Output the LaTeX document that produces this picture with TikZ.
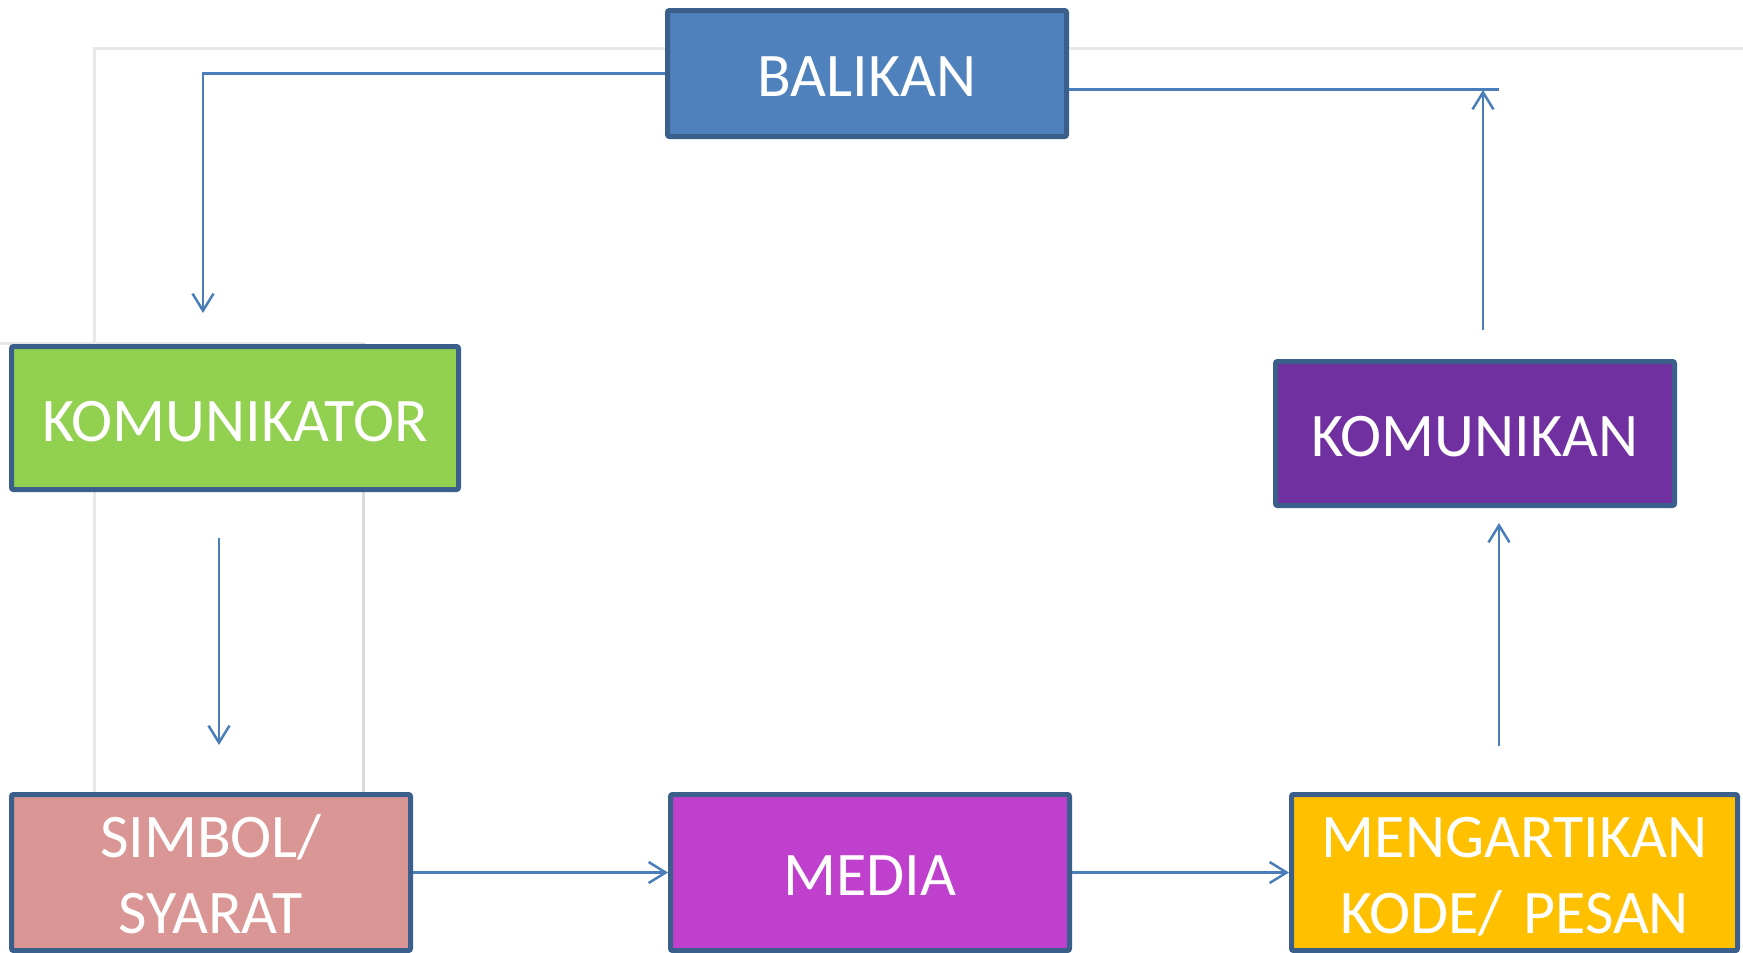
\documentclass[tikz,border=0pt]{standalone}
\usepackage{fontspec}
\setmainfont{Carlito}
\usetikzlibrary{arrows.meta,calc}
\definecolor{boxline}{HTML}{3A5F8B}
\definecolor{conncol}{HTML}{4A7EBB}
\definecolor{cBalikan}{HTML}{4F81BD}
\definecolor{cKomunikator}{HTML}{92D050}
\definecolor{cKomunikan}{HTML}{7030A0}
\definecolor{cSimbol}{HTML}{D99694}
\definecolor{cMedia}{HTML}{BF40CC}
\definecolor{cMengerti}{HTML}{FFC000}
\definecolor{ghost}{HTML}{E8E8E8}
\definecolor{ghostdark}{HTML}{DADADA}
\tikzset{
  boxnode/.style={draw=boxline, line width=5pt, rounded corners=2pt, inner sep=0pt,
    text=white, font=\fontsize{62}{76}\selectfont},
  oneline/.style={boxnode, text height=46pt, text depth=0pt},
  twoline/.style={boxnode, text width=#1, align=center, text height=0pt, text depth=31pt},
  conn/.style={draw=conncol, line width=2.5pt, -{Straight Barb[length=17pt,width=21pt]}},
  plainconn/.style={draw=conncol, line width=2.5pt},
  ghostline/.style={draw=ghost, line width=3pt},
}
\begin{document}
\begin{tikzpicture}[x=1pt,y=-1pt]
\useasboundingbox (0,0) rectangle (1743,953);
\fill[white] (0,0) rectangle (1743,953);
% faint background lines
\draw[ghostline] (94,792) -- (94,48) -- (1743,48);
\draw[ghostline] (0,343) -- (363,343);
\draw[ghostline, draw=ghostdark] (363,343) -- (363,792);

% boxes
\node[oneline, fill=cBalikan, minimum width=399pt, minimum height=126pt] (balikan) at (867,73.5) {BALIKAN};
\node[oneline, fill=cKomunikator, minimum width=447pt, minimum height=143pt] (komunikator) at (235,418) {KOMUNIKATOR};
\node[oneline, fill=cKomunikan, minimum width=399pt, minimum height=144pt] (komunikan) at (1475,433.5) {KOMUNIKAN};
\node[twoline=380pt, fill=cSimbol, minimum width=399pt, minimum height=156pt] (simbol) at (211,872.5) {SIMBOL/\\SYARAT};
\node[oneline, fill=cMedia, minimum width=399pt, minimum height=156pt] (media) at (870,872.5) {MEDIA};
\node[twoline=430pt, fill=cMengerti, minimum width=446pt, minimum height=156pt] (mengerti) at (1514.5,872.5) {MENGARTIKAN\\KODE/ PESAN};

% free connector ends
\coordinate (fbLeft) at ($(komunikator.north)+(-32,-31)$);
\coordinate (fbRightStart) at ($(balikan.east)+(0,16)$);
\coordinate (fbRightEnd) at ($(komunikan.north)+(24,-269.5)$);
\coordinate (kanTop) at ($(komunikan.north)+(8,-29)$);
\coordinate (kanTip) at ($(komunikan.north)+(8,-269)$);
\coordinate (torStart) at ($(komunikator.south)+(-16,46)$);
\coordinate (torTip) at ($(simbol.north)+(8,-47)$);
\coordinate (mgStart) at ($(mengerti.north)+(-15.5,-46)$);
\coordinate (mgTip) at ($(komunikan.south)+(24,15)$);

% connectors
\draw[conn] (balikan.west) -| (fbLeft);
\draw[plainconn] (fbRightStart) -- (fbRightStart -| fbRightEnd);
\draw[conn] (kanTop) -- (kanTip);
\draw[conn] (torStart) -- (torTip);
\draw[conn] (simbol.east) -- (media.west);
\draw[conn] (media.east) -- (mengerti.west);
\draw[conn] (mgStart) -- (mgTip);
\end{tikzpicture}
\end{document}
